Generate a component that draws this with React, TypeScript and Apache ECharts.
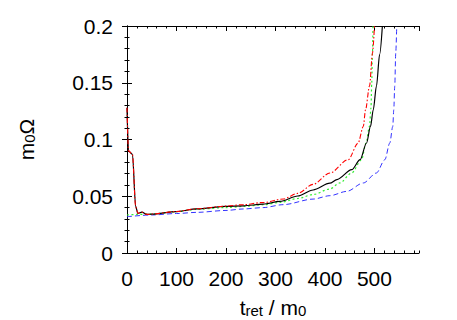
import React, { useEffect, useRef } from "react";
import * as echarts from "echarts";

const tBlack = [0, 3, 11, 17.5, 22, 30, 40, 50, 100, 141, 200, 235, 275, 309, 345, 376, 410, 424, 454, 471, 484, 492, 497.6, 504, 510.5, 516];
const vBlack = [0.128, 0.09, 0.087, 0.041, 0.035, 0.036, 0.034, 0.0343, 0.0365, 0.0388, 0.041, 0.0416, 0.043, 0.0455, 0.0502, 0.0555, 0.0615, 0.0646, 0.0734, 0.0822, 0.0969, 0.1115, 0.1262, 0.147, 0.175, 0.2];

const tRed = [0, 3, 11, 17.5, 22, 30, 40, 50, 100, 141, 200, 235, 275, 316, 345, 376, 410, 447, 467, 477.5, 482, 490, 496, 500];
const vRed = [0.128, 0.09, 0.087, 0.041, 0.035, 0.036, 0.034, 0.0343, 0.0366, 0.039, 0.0413, 0.0426, 0.0445, 0.0476, 0.0525, 0.0605, 0.0705, 0.0822, 0.0969, 0.1115, 0.1262, 0.147, 0.176, 0.2];

const tGreen = [0, 20, 50, 100, 141, 200, 235, 275, 309, 345, 376, 410, 430, 454, 474, 483, 490, 493, 494.5, 496, 497];
const vGreen = [0.0335, 0.034, 0.0343, 0.0365, 0.0385, 0.04, 0.041, 0.0425, 0.0445, 0.048, 0.0515, 0.0564, 0.0617, 0.0705, 0.0822, 0.0969, 0.1115, 0.128, 0.15, 0.176, 0.2];

const tBlue = [0, 50, 100, 141, 200, 235, 275, 316, 376, 410, 444, 477.5, 504, 521, 531, 537, 539, 541, 543, 545];
const vBlue = [0.032, 0.0335, 0.0348, 0.0358, 0.0375, 0.0388, 0.04, 0.0426, 0.0475, 0.0505, 0.0543, 0.0617, 0.0705, 0.0822, 0.0969, 0.1115, 0.126, 0.147, 0.176, 0.2];

const X_MIN = 0;
const X_MAX = 590;
const Y_MIN = 0;
const Y_MAX = 0.2;

const pairs = (t: number[], v: number[]) => t.map((x, i) => [x, v[i]]);

const FONT = "Liberation Sans, Arial, Helvetica, sans-serif";

export default function App() {
  const ref = useRef<HTMLDivElement>(null);
  useEffect(() => {
    if (!ref.current) return;
    const chart = echarts.init(ref.current, undefined, { renderer: "svg" });
    const axisLine = { show: true, lineStyle: { color: "#000", width: 1 } };
    const majorX = (pos: "bottom" | "top", labels: boolean) => ({
      type: "value",
      position: pos,
      min: X_MIN,
      max: X_MAX,
      interval: 100,
      axisLine,
      axisTick: { show: true, inside: true, length: 5, lineStyle: { color: "#000" } },
      axisLabel: {
        show: labels,
        showMaxLabel: false,
        color: "#000",
        fontSize: 21,
        fontFamily: FONT,
        margin: 15,
      },
      splitLine: { show: false },
    });
    const minorX = (pos: "bottom" | "top") => ({
      type: "value",
      position: pos,
      min: X_MIN,
      max: X_MAX,
      interval: 20,
      axisLine: { show: false },
      axisTick: { show: true, inside: true, length: 2.5, lineStyle: { color: "#000" } },
      axisLabel: { show: false },
      splitLine: { show: false },
    });
    const yAx = (pos: "left" | "right", labels: boolean) => ({
      type: "value",
      position: pos,
      min: Y_MIN,
      max: Y_MAX,
      interval: 0.05,
      axisLine,
      axisTick: { show: true, inside: true, length: 5, lineStyle: { color: "#000" } },
      minorTick: { show: true, splitNumber: 5, length: 2.5, lineStyle: { color: "#000" } },
      axisLabel: {
        show: labels,
        color: "#000",
        fontSize: 21,
        fontFamily: FONT,
        margin: 14,
        formatter: (v: number) => String(parseFloat(v.toFixed(3))),
      },
      splitLine: { show: false },
      minorSplitLine: { show: false },
    });
    const rich = {
      a: { fontSize: 21, fontFamily: FONT, color: "#000", lineHeight: 22 },
      s: { fontSize: 15, fontFamily: FONT, color: "#000", lineHeight: 8, verticalAlign: "bottom" },
    };
    const xMain: any = {
      ...majorX("bottom", true),
      name: "{a|t}{s|ret}{a| / m}{s|0}",
      nameLocation: "middle",
      nameGap: 43,
      nameTextStyle: { color: "#000", fontFamily: FONT, rich },
    };
    const yMain: any = {
      ...yAx("left", true),
      name: "{a|m}{s|0}{a|Ω}",
      nameLocation: "middle",
      nameRotate: 90,
      nameGap: 90,
      nameTextStyle: { color: "#000", fontFamily: FONT, rich },
    };
    const line = (name: string, t: number[], v: number[], color: string, type: any, width: number) => ({
      name,
      type: "line",
      data: pairs(t, v),
      xAxisIndex: 0,
      yAxisIndex: 0,
      showSymbol: false,
      symbol: "none",
      clip: true,
      smooth: 0.3,
      smoothMonotone: "x",
      lineStyle: { color, width, type },
      silent: true,
    });
    chart.setOption({
      animation: false,
      backgroundColor: "#fff",
      grid: {
        left: 127,
        top: 26,
        right: 38,
        bottom: 67,
        containLabel: false,
        outerBoundsMode: "none",
      },
      xAxis: [xMain, minorX("bottom"), majorX("top", false), minorX("top")],
      yAxis: [yMain, yAx("right", false)],
      series: [
        line("blue", tBlue, vBlue, "#3333ff", [5, 3], 1),
        line("green", tGreen, vGreen, "#33ee33", [2, 2.5], 1.2),
        line("black", tBlack, vBlack, "#000000", "solid", 1.2),
        line("red", tRed, vRed, "#ff0000", [5, 2, 1.5, 2], 1.1),
      ],
    });
    return () => chart.dispose();
  }, []);
  return (
    <div
      ref={ref}
      style={{ position: "fixed", left: 0, top: 0, width: 457, height: 320, background: "#fff" }}
    />
  );
}
